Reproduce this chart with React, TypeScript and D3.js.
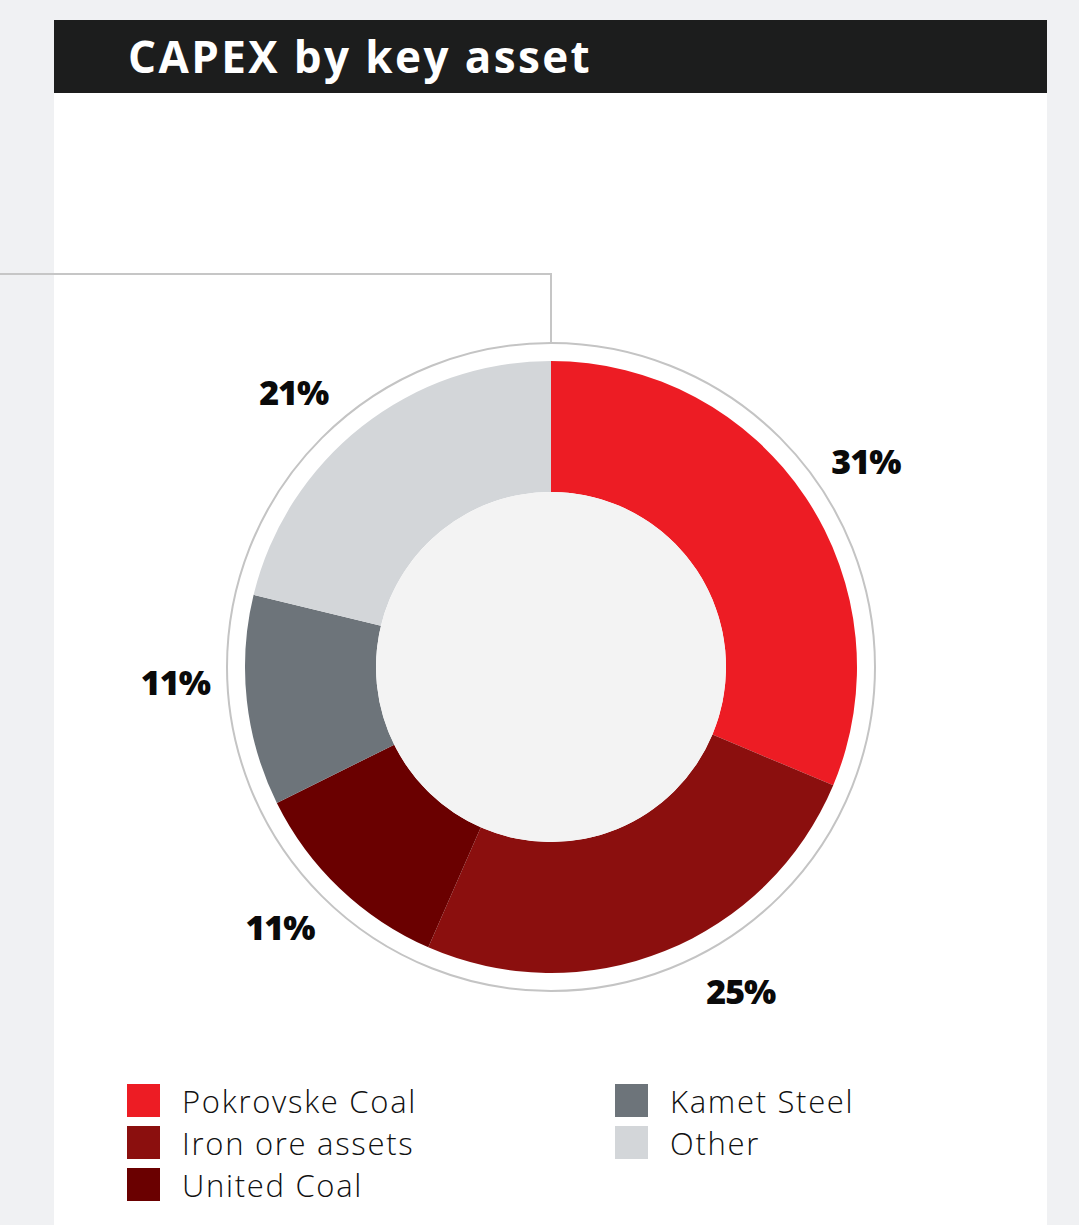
import { useEffect, useRef } from "react";
import * as d3 from "d3";

const categories = ["Pokrovske Coal", "Iron ore assets", "United Coal", "Kamet Steel", "Other"];
const shares = [31, 25, 11, 11, 21];
const colors = ["#ed1c24", "#8b0f0e", "#6a0000", "#6d747a", "#d3d6d9"];
const legendColumn = [0, 0, 0, 1, 1];
const legendRow = [0, 1, 2, 0, 1];
// small angular nudges (degrees) the original applies to the % labels
const labelNudge = [0.5, -8.5, 2.5, 4, -5];

const W = 1079;
const H = 1225;

const App = () => {
  const svgRef = useRef<SVGSVGElement>(null);

  useEffect(() => {
    const svg = d3.select(svgRef.current);
    svg.selectAll("*").remove();

    // page + panel
    svg.append("rect").attr("width", W).attr("height", H).attr("fill", "#f0f1f3");
    svg.append("rect").attr("x", 54).attr("y", 20).attr("width", 993).attr("height", H - 20).attr("fill", "#fff");
    svg.append("rect").attr("x", 54).attr("y", 20).attr("width", 993).attr("height", 73).attr("fill", "#1c1d1d");
    svg.append("text")
      .attr("x", 128).attr("y", 73)
      .attr("fill", "#fff")
      .attr("font-family", "'Open Sans', sans-serif")
      .attr("font-weight", 700)
      .attr("font-size", 44)
      .attr("letter-spacing", 2.4)
      .text("CAPEX by key asset");

    const cx = 551, cy = 667;
    const outerR = 306, innerR = 175, ringR = 324;

    // connector line
    svg.append("path")
      .attr("d", `M0,274 H${cx} V${cy - ringR}`)
      .attr("fill", "none")
      .attr("stroke", "#c6c6c6")
      .attr("stroke-width", 2);

    const g = svg.append("g").attr("transform", `translate(${cx},${cy})`);

    g.append("circle").attr("r", ringR).attr("fill", "none").attr("stroke", "#c4c4c4").attr("stroke-width", 2);

    const pie = d3.pie<number>().sort(null).value(d => d);
    const arcs = pie(shares);
    const arc = d3.arc<d3.PieArcDatum<number>>().innerRadius(innerR).outerRadius(outerR);

    g.selectAll("path.slice")
      .data(arcs)
      .join("path")
      .attr("class", "slice")
      .attr("d", arc)
      .attr("fill", (_, i) => colors[i]);

    g.append("circle").attr("r", innerR).attr("fill", "#f3f3f3");

    const labelR = 376;
    const mid = (d: d3.PieArcDatum<number>, i: number) =>
      (d.startAngle + d.endAngle) / 2 + (labelNudge[i] * Math.PI) / 180;
    g.selectAll("text.lbl")
      .data(arcs)
      .join("text")
      .attr("class", "lbl")
      .attr("x", (d, i) => labelR * Math.sin(mid(d, i)))
      .attr("y", (d, i) => -labelR * Math.cos(mid(d, i)))
      .attr("text-anchor", "middle")
      .attr("dy", "0.36em")
      .attr("font-family", "'Open Sans', sans-serif")
      .attr("font-weight", 800)
      .attr("font-size", 34)
      .attr("letter-spacing", -1)
      .attr("fill", "#0a0a0a")
      .text(d => `${d.data}%`);

    // legend
    const colX = d3.scaleOrdinal<number, number>().domain([0, 1]).range([127, 615]);
    const rowY = d3.scaleLinear().domain([0, 1]).range([1084, 1126]);
    const leg = svg.selectAll("g.leg")
      .data(categories)
      .join("g")
      .attr("class", "leg")
      .attr("transform", (_, i) => `translate(${colX(legendColumn[i])},${rowY(legendRow[i])})`);
    leg.append("rect").attr("width", 33).attr("height", 33).attr("fill", (_, i) => colors[i]);
    leg.append("text")
      .attr("x", 55).attr("y", 29)
      .attr("font-family", "'Open Sans', sans-serif")
      .attr("font-weight", 300)
      .attr("font-size", 31)
      .attr("letter-spacing", 1.7)
      .attr("fill", "#111")
      .text(d => d);
  }, []);

  return (
    <svg ref={svgRef} width={W} height={H} viewBox={`0 0 ${W} ${H}`}
      style={{ position: "absolute", left: 0, top: 0, display: "block" }} />
  );
};

export default App;
